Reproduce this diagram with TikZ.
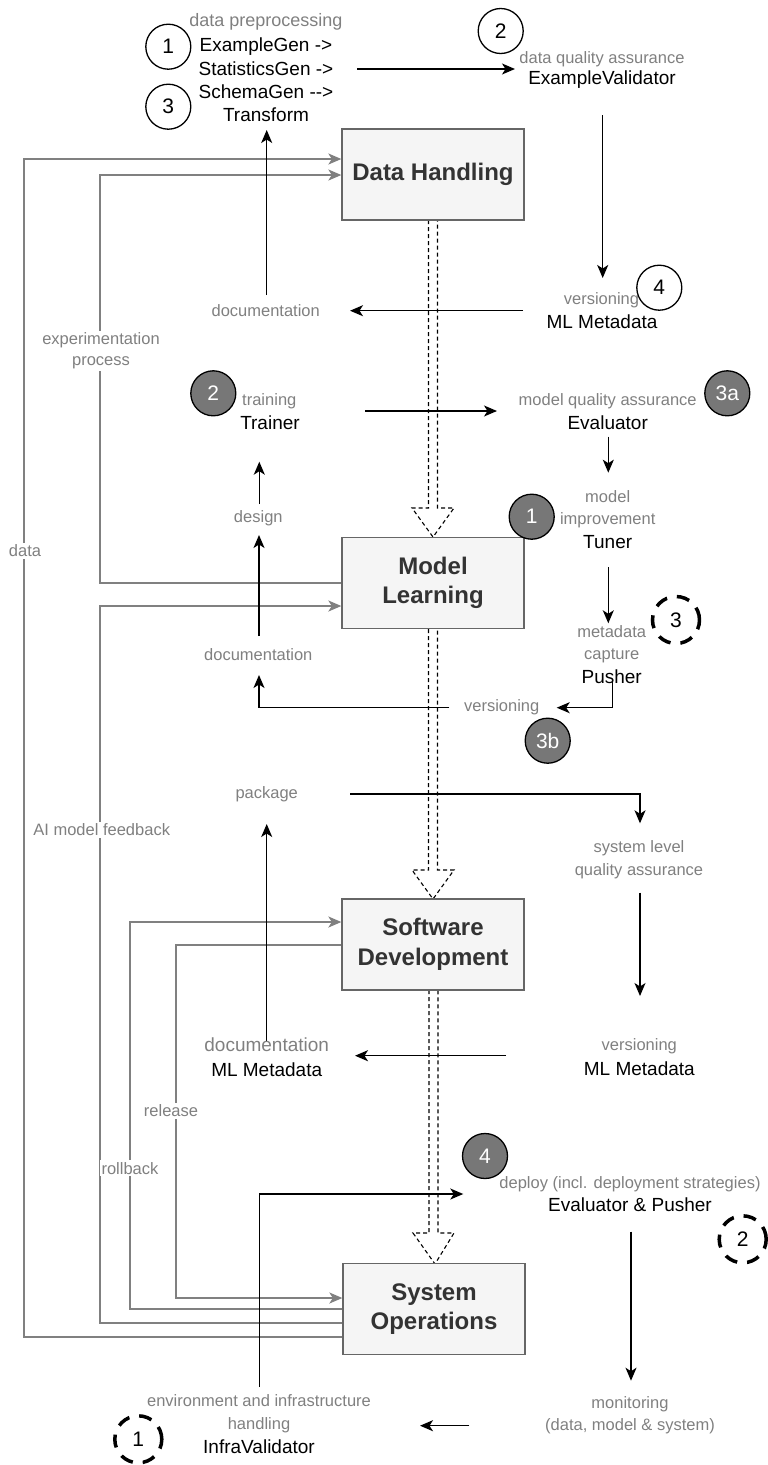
\documentclass[tikz,border=0pt]{standalone}
\usepackage{fontspec}
\setmainfont{Liberation Sans}
\usetikzlibrary{arrows.meta}
\definecolor{lbl}{RGB}{128,128,128}
\definecolor{lnc}{RGB}{128,128,128}
\definecolor{boxf}{RGB}{245,245,245}
\definecolor{boxb}{RGB}{102,102,102}
\definecolor{ttl}{RGB}{51,51,51}
\definecolor{numg}{RGB}{119,119,119}
\newcommand\glfont{\fontsize{16.5}{21.5}\selectfont}
\newcommand\blfont{\fontsize{19}{23.3}\selectfont}
\newcommand\ttlfont{\fontsize{24}{29.5}\selectfont\bfseries}
\newcommand\numfnt{\fontsize{21}{25}\selectfont}
\begin{document}
\begin{tikzpicture}[x=1pt,y=-1pt,
  box/.style={draw=boxb, fill=boxf, line width=1.3pt, minimum width=182pt, minimum height=91pt, inner sep=0pt, font=\ttlfont, text=ttl, align=center},
  gl/.style={font=\glfont, text=lbl, inner sep=0pt, align=center},
  onl/.style={gl, fill=white, inner sep=2pt},
  bl/.style={font=\blfont, text=black, inner sep=0pt, align=center},
  num/.style={circle, draw=black, line width=1.3pt, minimum size=45pt, inner sep=0pt, font=\numfnt},
  gnum/.style={num, fill=numg, text=white},
  dnum/.style={num, minimum size=47pt, line width=3.5pt, dash pattern=on 13pt off 10pt},
  arr/.style={draw=black, line width=1.4pt, -{Stealth[length=13pt,width=11pt,inset=3.5pt]}},
  garr/.style={draw=lnc, line width=1.8pt, -{Stealth[length=13pt,width=11pt,inset=3.5pt]}},
  flex/.style={draw=black, line width=1.1pt, dash pattern=on 4pt off 3pt, line join=miter}
]
\useasboundingbox (0,0) rectangle (768,1465);

% hollow dashed arrows between the phases
\draw[flex] (428.5,220) -- (428.5,508) -- (412,508) -- (433,537) -- (454,508) -- (437.5,508) -- (437.5,220);
\draw[flex] (428.5,629) -- (428.5,870) -- (412,870) -- (433,899) -- (454,870) -- (437.5,870) -- (437.5,629);
\draw[flex] (429,990) -- (429,1233) -- (413,1233) -- (435,1264) -- (454,1233) -- (438,1233) -- (438,990);

% phase boxes
\node[box] (dh) at (433,174.5) {Data Handling};
\node[box] (ml) at (433,583) {Model\\Learning};
\node[box] (sd) at (433,944.5) {Software\\Development};
\node[box] (so) at (434,1309) {System\\Operations};

% grey feedback connectors
\draw[garr] (so.west |- 0,1337) -| (24.3,159) -- (dh.west |- 0,159);
\draw[garr] (ml.west |- 0,583) -| (100,175) -- (dh.west |- 0,175);
\draw[garr] (so.west |- 0,1323) -| (100,606) -- (ml.west |- 0,606);
\draw[garr] (so.west |- 0,1309) -| (130,922) -- (sd.west |- 0,922);
\draw[garr] (sd.west |- 0,945) -| (176,1298) -- (so.west |- 0,1298);

% end points of black connectors
\coordinate (p1a) at (357,69);     \coordinate (p1b) at (515,69);
\coordinate (p2a) at (602.7,115);  \coordinate (p2b) at (602.7,278);
\coordinate (p3a) at (523,310.7);  \coordinate (p3b) at (350,310.7);
\coordinate (p4a) at (266.7,295);  \coordinate (p4b) at (266.7,130);
\coordinate (p5a) at (365,411);    \coordinate (p5b) at (497,411);
\coordinate (p6a) at (608.3,436.7);\coordinate (p6b) at (608.3,472.7);
\coordinate (p7a) at (259.3,504);  \coordinate (p7b) at (259.3,461.7);
\coordinate (p8a) at (259,636);    \coordinate (p8b) at (259,535);
\coordinate (p9a) at (608.3,567);  \coordinate (p9b) at (608.3,623.3);
\coordinate (p10a) at (612.3,681.7);\coordinate (p10b) at (556.7,707.7);
\coordinate (p11a) at (449.3,707.7);\coordinate (p11b) at (259,675);
\coordinate (p12a) at (350,794);   \coordinate (p12b) at (640,823.3);
\coordinate (p13a) at (640,892.7); \coordinate (p13b) at (640,996);
\coordinate (p14a) at (506,1055.7);\coordinate (p14b) at (355,1055.7);
\coordinate (p15a) at (266.7,1041.7);\coordinate (p15b) at (266.7,824);
\coordinate (p16a) at (259.3,1387);\coordinate (p16b) at (463.3,1194);
\coordinate (p17a) at (631,1231.7);\coordinate (p17b) at (631,1380.7);
\coordinate (p18a) at (469.3,1425.7);\coordinate (p18b) at (420,1425.7);

\draw[arr] (p1a) -- (p1b);
\draw[arr] (p2a) -- (p2b);
\draw[arr] (p3a) -- (p3b);
\draw[arr] (p4a) -- (p4b);
\draw[arr] (p5a) -- (p5b);
\draw[arr] (p6a) -- (p6b);
\draw[arr] (p7a) -- (p7b);
\draw[arr] (p8a) -- (p8b);
\draw[arr] (p9a) -- (p9b);
\draw[arr] (p10a) |- (p10b);
\draw[arr] (p11a) -| (p11b);
\draw[arr] (p12a) -| (p12b);
\draw[arr] (p13a) -- (p13b);
\draw[arr] (p14a) -- (p14b);
\draw[arr] (p15a) -- (p15b);
\draw[arr] (p16a) |- (p16b);
\draw[arr] (p17a) -- (p17b);
\draw[arr] (p18a) -- (p18b);

% labels on grey connectors
\node[onl] (datal) at (25,551) {data};
\node[onl, font=\fontsize{16.5}{21}\selectfont] (exp) at (101,351) {experimentation\\process};
\node[onl] (aifb) at (101.7,830) {AI model feedback};
\node[onl] (rel) at (171,1111) {release};
\node[onl] (rb) at (130,1168.3) {rollback};

% data handling steps
\node[gl, font=\fontsize{18}{22}\selectfont] (dpp) at (266,22) {data preprocessing};
\node[bl] (egen) at (266,80) {ExampleGen ->\\StatisticsGen ->\\SchemaGen -\kern0pt->\\Transform};
\node[num] (c1) at (168.3,46.7) {1};
\node[num] (c3) at (168.3,106.7) {3};
\node[num] (c2) at (500.7,31) {2};
\node[gl] (dqa) at (602,59) {data quality assurance};
\node[bl] (ev) at (602,80) {ExampleValidator};
\node[gl] (ver1) at (601.5,300) {versioning};
\node[num] (c4) at (659.3,287.7) {4};
\node[bl] (mlm1) at (602,321.7) {ML Metadata};
\node[gl] (doc1) at (265.7,310.7) {documentation};

% model learning steps
\node[gnum] (g2) at (213.3,393.3) {2};
\node[gl] (trn) at (269.3,401.7) {training};
\node[bl] (trainer) at (270,422.7) {Trainer};
\node[gl] (mqa) at (607.7,401.7) {model quality assurance};
\node[bl] (eval) at (607.7,422.7) {Evaluator};
\node[gnum] (g3a) at (727.3,393.3) {3a};
\node[gl] (design) at (258.3,518.3) {design};
\node[gl, font=\fontsize{16.5}{21.7}\selectfont] (mimp) at (607.7,509) {model\\improvement};
\node[bl] (tuner) at (607.7,541.7) {Tuner};
\node[gnum] (g1) at (531.7,516.7) {1};
\node[gl] (doc2) at (258.3,655) {documentation};
\node[gl, font=\fontsize{16.5}{22.3}\selectfont] (mcap) at (611.7,644) {metadata\\capture};
\node[bl] (pusher) at (611.7,676.7) {Pusher};
\node[dnum] (d3) at (676,620) {3};
\node[gl] (ver2) at (501.7,707.7) {versioning};
\node[gnum] (g3b) at (547.7,740.7) {3b};

% software development steps
\node[gl] (pkg) at (266.7,794) {package};
\node[gl, font=\fontsize{16.5}{22.7}\selectfont] (slqa) at (639,859.7) {system level\\quality assurance};
\node[gl, font=\blfont] (doc3) at (266.7,1045) {documentation};
\node[bl] (mlm3) at (266.7,1069.3) {ML Metadata};
\node[gl] (ver3) at (639.3,1046.7) {versioning};
\node[bl] (mlm2) at (639.3,1068.3) {ML Metadata};

% system operations steps
\node[gnum] (g4) at (485,1156) {4};
\node[gl] (dep) at (630,1184) {deploy (incl. deployment strategies)};
\node[bl] (evp) at (630,1205) {Evaluator \& Pusher};
\node[dnum] (d2) at (742.7,1239.3) {2};
\node[gl] (mon) at (630,1415) {monitoring\\(data, model \& system)};
\node[gl, font=\fontsize{16.5}{23.4}\selectfont] (env) at (259,1414) {environment and infrastructure\\handling};
\node[bl] (infra) at (259,1446.7) {InfraValidator};
\node[dnum] (d1) at (138.3,1439.3) {1};
\end{tikzpicture}
\end{document}
